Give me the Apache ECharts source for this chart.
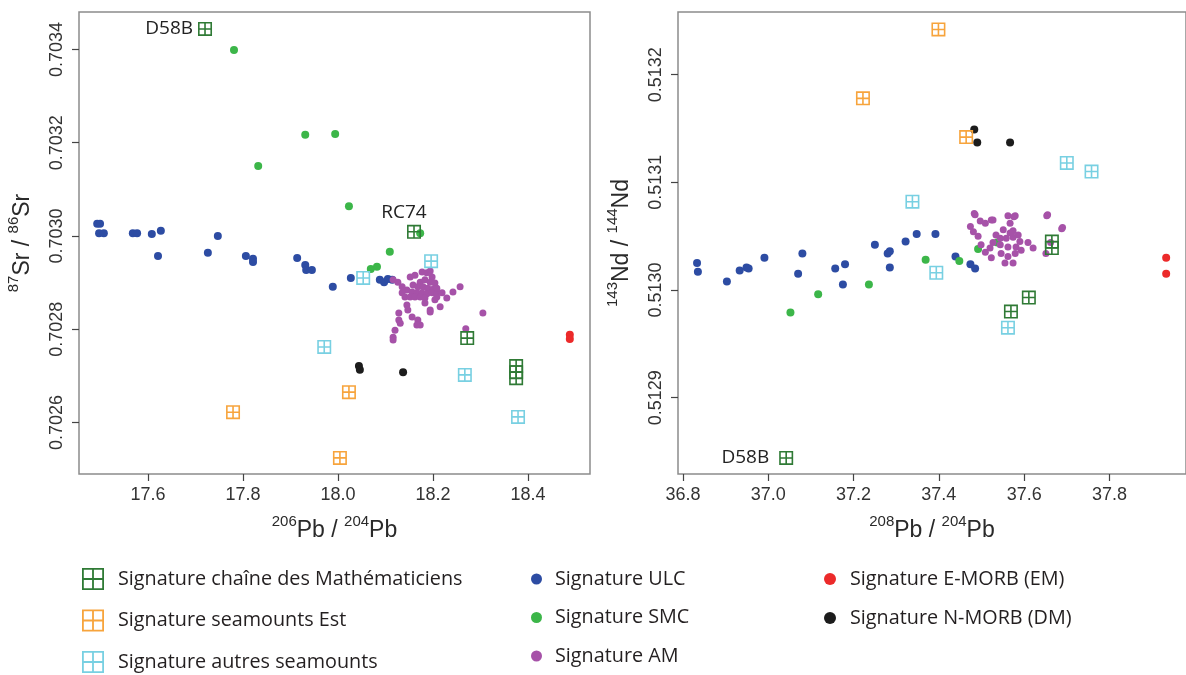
<!DOCTYPE html>
<html>
<head>
<meta charset="utf-8">
<script src="https://cdn.jsdelivr.net/npm/echarts@6/dist/echarts.min.js"></script>
<style>
  html, body { margin: 0; padding: 0; background: #ffffff; }
  #chart { width: 1186px; height: 675px; }
</style>
</head>
<body>
<div id="chart"></div>
<script>
// ---------- Series names ----------
const seriesNames = {
  math: 'Signature chaîne des Mathématiciens',
  est: 'Signature seamounts Est',
  autres: 'Signature autres seamounts',
  ulc: 'Signature ULC',
  smc: 'Signature SMC',
  am: 'Signature AM',
  em: 'Signature E-MORB (EM)',
  dm: 'Signature N-MORB (DM)'
};

// ---------- Tick labels ----------
const leftXTicks = [17.6, 17.8, 18.0, 18.2, 18.4];
const leftYTicks = [0.7026, 0.7028, 0.7030, 0.7032, 0.7034];
const rightXTicks = [36.8, 37.0, 37.2, 37.4, 37.6, 37.8];
const rightYTicks = [0.5129, 0.5130, 0.5131, 0.5132];

// ---------- Left panel: 206Pb/204Pb vs 87Sr/86Sr ----------
const leftMath = [[17.720,0.703444],[18.160,0.703009],[18.272,0.702781],[18.375,0.702721],[18.375,0.702708],[18.375,0.702695]];
const leftMathNames = ['D58B','RC74','','','',''];
const leftEst = [[17.779,0.702622],[18.023,0.702665],[18.004,0.702524]];
const leftAutres = [[17.971,0.702762],[18.053,0.702910],[18.196,0.702946],[18.267,0.702702],[18.379,0.702612]];
const leftULC = [[17.493,0.703026],[17.499,0.703026],[17.497,0.703006],[17.507,0.703006],[17.568,0.703006],[17.577,0.703006],
  [17.608,0.703004],[17.627,0.703011],[17.621,0.702957],[17.726,0.702964],[17.747,0.703000],[17.806,0.702957],
  [17.821,0.702951],[17.821,0.702944],[17.914,0.702953],[17.931,0.702938],[17.933,0.702927],[17.945,0.702927],
  [17.989,0.702891],[18.027,0.702910],[18.088,0.702906],[18.097,0.702901],[18.105,0.702908],[18.114,0.702906]];
const leftSMC = [[17.781,0.703399],[17.931,0.703217],[17.994,0.703219],[17.832,0.703150],[18.023,0.703064],
  [18.109,0.702966],[18.069,0.702929],[18.082,0.702934],[18.173,0.703006]];
const leftAM = [[18.152,0.702912],[18.162,0.702916],[18.177,0.702923],[18.187,0.702921],[18.194,0.702925],[18.198,0.702912],
  [18.173,0.702901],[18.183,0.702906],[18.194,0.702901],[18.204,0.702899],[18.158,0.702895],[18.168,0.702891],
  [18.179,0.702891],[18.189,0.702888],[18.200,0.702886],[18.145,0.702884],[18.156,0.702880],[18.166,0.702878],
  [18.177,0.702878],[18.187,0.702876],[18.198,0.702878],[18.208,0.702880],[18.135,0.702878],[18.141,0.702869],
  [18.152,0.702869],[18.162,0.702869],[18.173,0.702869],[18.183,0.702867],[18.208,0.702869],[18.219,0.702878],
  [18.183,0.702856],[18.204,0.702863],[18.215,0.702848],[18.194,0.702837],[18.194,0.702841],[18.242,0.702880],
  [18.257,0.702891],[18.229,0.702867],[18.305,0.702835],[18.145,0.702852],[18.147,0.702841],[18.156,0.702826],
  [18.128,0.702835],[18.128,0.702820],[18.131,0.702813],[18.168,0.702820],[18.173,0.702809],[18.166,0.702809],
  [18.120,0.702798],[18.116,0.702783],[18.116,0.702777],[18.269,0.702801],[18.116,0.702906],[18.126,0.702901],
  [18.135,0.702891],[18.208,0.702888]];
const leftEM = [[18.488,0.702788],[18.488,0.702779]];
const leftDM = [[18.044,0.702721],[18.046,0.702713],[18.137,0.702708]];

// ---------- Right panel: 208Pb/204Pb vs 143Nd/144Nd ----------
const rightMath = [[37.042,0.512844],[37.611,0.512993],[37.569,0.512980],[37.665,0.513045],[37.665,0.513039]];
const rightMathNames = ['D58B','','','',''];
const rightEst = [[37.399,0.513242],[37.464,0.513142],[37.222,0.513178]];
const rightAutres = [[37.700,0.513118],[37.758,0.513110],[37.338,0.513082],[37.394,0.513016],[37.562,0.512965]];
const rightULC = [[36.833,0.513025],[36.835,0.513017],[36.903,0.513008],[36.933,0.513018],[36.949,0.513021],[36.954,0.513020],
  [36.991,0.513030],[37.080,0.513034],[37.070,0.513015],[37.157,0.513020],[37.180,0.513024],[37.175,0.513005],
  [37.250,0.513042],[37.280,0.513034],[37.285,0.513036],[37.285,0.513021],[37.322,0.513045],[37.348,0.513052],
  [37.392,0.513052],[37.439,0.513031],[37.474,0.513024],[37.485,0.513020]];
const rightSMC = [[37.052,0.512979],[37.117,0.512996],[37.236,0.513005],[37.369,0.513028],[37.448,0.513027],
  [37.492,0.513038],[37.537,0.513044]];
const rightAM = [[37.483,0.513071],[37.497,0.513064],[37.509,0.513062],[37.523,0.513065],[37.474,0.513059],[37.562,0.513069],
  [37.579,0.513069],[37.655,0.513070],[37.567,0.513062],[37.492,0.513050],[37.551,0.513056],[37.574,0.513055],
  [37.544,0.513048],[37.558,0.513048],[37.574,0.513049],[37.590,0.513045],[37.527,0.513044],[37.544,0.513042],
  [37.562,0.513040],[37.581,0.513040],[37.499,0.513042],[37.509,0.513035],[37.523,0.513030],[37.546,0.513034],
  [37.562,0.513031],[37.579,0.513034],[37.593,0.513037],[37.555,0.513025],[37.574,0.513025],[37.621,0.513039],
  [37.651,0.513034],[37.690,0.513058],[37.662,0.513044],[37.520,0.513039],[37.609,0.513044],[37.485,0.513070],
  [37.527,0.513065],[37.576,0.513068],[37.688,0.513057],[37.653,0.513069],[37.481,0.513054],[37.534,0.513051],
  [37.567,0.513053],[37.586,0.513051]];
const rightEM = [[37.933,0.513030],[37.933,0.513015]];
const rightDM = [[37.483,0.513149],[37.490,0.513137],[37.567,0.513137]];

// ---------- Styling ----------
const FONT_AXIS = 'Liberation Sans, Arial, sans-serif';
const FONT_TEXT = 'Open Sans, Noto Sans, sans-serif';
const colors = {
  math: '#2f7a35', est: '#f7a43c', autres: '#78d0e2',
  ulc: '#2d4ca3', smc: '#3cb649', am: '#a652a8', em: '#ec2a2a', dm: '#1c1c1c'
};
const GRID_SYMBOL = 'path://M0,0L14,0L14,14L0,14Z M1.6,1.6L1.6,6.2L6.2,6.2L6.2,1.6Z M7.8,1.6L7.8,6.2L12.4,6.2L12.4,1.6Z M1.6,7.8L1.6,12.4L6.2,12.4L6.2,7.8Z M7.8,7.8L7.8,12.4L12.4,12.4L12.4,7.8Z';
const GRID_ICON = 'path://M0,0L22,0L22,22L0,22Z M1.8,1.8L1.8,10.1L10.1,10.1L10.1,1.8Z M11.9,1.8L11.9,10.1L20.2,10.1L20.2,1.8Z M1.8,11.9L1.8,20.2L10.1,20.2L10.1,11.9Z M11.9,11.9L11.9,20.2L20.2,20.2L20.2,11.9Z';

const grids = [
  { left: 79, top: 12, width: 511, height: 462 },
  { left: 678, top: 12, width: 511, height: 462 }
];
const ranges = [
  { xmin: 17.4547, xmax: 18.5305, ymin: 0.7024895, ymax: 0.7034804 },
  { xmin: 36.78834, xmax: 37.9795, ymin: 0.5128291, ymax: 0.5132582 }
];

function richName(sup1, main1, sup2, main2) {
  return '{sup|' + sup1 + '}{main|' + main1 + ' / }{sup|' + sup2 + '}{main|' + main2 + '}';
}
const nameRich = {
  main: { fontSize: 23, fontFamily: FONT_AXIS, color: '#2a2a2a', lineHeight: 28, verticalAlign: 'bottom' },
  sup: { fontSize: 15, fontFamily: FONT_AXIS, color: '#2a2a2a', lineHeight: 28, verticalAlign: 'top' }
};

function makeX(idx, ticks, name) {
  return {
    type: 'value', gridIndex: idx, min: ranges[idx].xmin, max: ranges[idx].xmax,
    axisLine: { show: false }, splitLine: { show: false },
    axisTick: { show: true, customValues: ticks, length: 7, lineStyle: { color: '#444', width: 1.2 } },
    axisLabel: { customValues: ticks, formatter: v => Number(v).toFixed(1), fontSize: 18, color: '#333', fontFamily: FONT_AXIS, margin: 12 },
    name: name, nameLocation: 'middle', nameGap: 40,
    nameTextStyle: { rich: nameRich }
  };
}
function makeY(idx, ticks, name) {
  return {
    type: 'value', gridIndex: idx, min: ranges[idx].ymin, max: ranges[idx].ymax,
    axisLine: { show: false }, splitLine: { show: false },
    axisTick: { show: true, customValues: ticks, length: 7, lineStyle: { color: '#444', width: 1.2 } },
    axisLabel: { customValues: ticks, formatter: v => Number(v).toFixed(4), fontSize: 18, color: '#333', fontFamily: FONT_AXIS, margin: 13, rotate: 90 },
    name: name, nameLocation: 'middle', nameRotate: 90, nameGap: 45,
    nameTextStyle: { rich: nameRich }
  };
}

function labeledItems(arr, names) {
  return arr.map((v, i) => {
    const n = names[i];
    const item = { value: v, name: n };
    if (n === 'RC74') item.label = { show: true, position: 'top', offset: [-10, 0], distance: 3 };
    else if (n === 'D58B') item.label = { show: true, position: 'left', distance: v[0] > 30 ? 10 : 5 };
    return item;
  });
}

function squareSeries(name, color, idx, data) {
  return {
    type: 'scatter', name: name, xAxisIndex: idx, yAxisIndex: idx, data: data,
    symbol: GRID_SYMBOL, symbolSize: 14, z: 5,
    itemStyle: { color: color, opacity: 1 },
    label: { show: false, formatter: p => p.name, fontSize: 19, fontFamily: FONT_TEXT, color: '#222' },
    emphasis: { disabled: true }
  };
}
function dotSeries(name, color, idx, data, size) {
  return {
    type: 'scatter', name: name, xAxisIndex: idx, yAxisIndex: idx, data: data,
    symbol: 'circle', symbolSize: size, z: 3,
    itemStyle: { color: color, opacity: 1 },
    emphasis: { disabled: true }
  };
}

const series = [];
[[0, { ulc: leftULC, smc: leftSMC, am: leftAM, em: leftEM, dm: leftDM, math: labeledItems(leftMath, leftMathNames), est: leftEst, autres: leftAutres }],
 [1, { ulc: rightULC, smc: rightSMC, am: rightAM, em: rightEM, dm: rightDM, math: labeledItems(rightMath, rightMathNames), est: rightEst, autres: rightAutres }]
].forEach(([idx, d]) => {
  series.push(dotSeries(seriesNames.ulc, colors.ulc, idx, d.ulc, 8));
  series.push(dotSeries(seriesNames.smc, colors.smc, idx, d.smc, 8));
  series.push(dotSeries(seriesNames.am, colors.am, idx, d.am, 7));
  series.push(dotSeries(seriesNames.em, colors.em, idx, d.em, 8));
  series.push(dotSeries(seriesNames.dm, colors.dm, idx, d.dm, 8));
  series.push(squareSeries(seriesNames.est, colors.est, idx, d.est));
  series.push(squareSeries(seriesNames.autres, colors.autres, idx, d.autres));
  series.push(squareSeries(seriesNames.math, colors.math, idx, d.math));
});

const legendText = { fontSize: 19.8, fontFamily: FONT_TEXT, color: '#231f20', lineHeight: 22 };
const legendBase = { orient: 'vertical', padding: 0, height: 200, width: 400, selectedMode: false };
const option = {
  animation: false,
  backgroundColor: '#ffffff',
  grid: grids.map(g => Object.assign({ show: true, borderColor: '#8c8c8c', borderWidth: 1.5, backgroundColor: 'transparent' }, g)),
  xAxis: [
    makeX(0, leftXTicks, richName('206', 'Pb', '204', 'Pb')),
    makeX(1, rightXTicks, richName('208', 'Pb', '204', 'Pb'))
  ],
  yAxis: [
    makeY(0, leftYTicks, richName('87', 'Sr', '86', 'Sr')),
    makeY(1, rightYTicks, richName('143', 'Nd', '144', 'Nd'))
  ],
  legend: [
    Object.assign({}, legendBase, { left: 82, top: 568, itemWidth: 22, itemHeight: 22, itemGap: 19.5,
      icon: GRID_ICON,
      data: [seriesNames.math, seriesNames.est, seriesNames.autres],
      textStyle: Object.assign({ padding: [0, 0, 0, 9] }, legendText) }),
    Object.assign({}, legendBase, { left: 531, top: 568, itemWidth: 11, itemHeight: 11, itemGap: 16.5,
      icon: 'circle',
      data: [seriesNames.ulc, seriesNames.smc, seriesNames.am],
      textStyle: Object.assign({ padding: [0, 0, 0, 8] }, legendText) }),
    Object.assign({}, legendBase, { left: 824, top: 568, itemWidth: 12, itemHeight: 12, itemGap: 17,
      icon: 'circle',
      data: [seriesNames.em, seriesNames.dm],
      textStyle: Object.assign({ padding: [0, 0, 0, 9] }, legendText) })
  ],
  series: series
};

const chart = echarts.init(document.getElementById('chart'), null, { renderer: 'canvas' });
chart.setOption(option);
</script>
</body>
</html>
